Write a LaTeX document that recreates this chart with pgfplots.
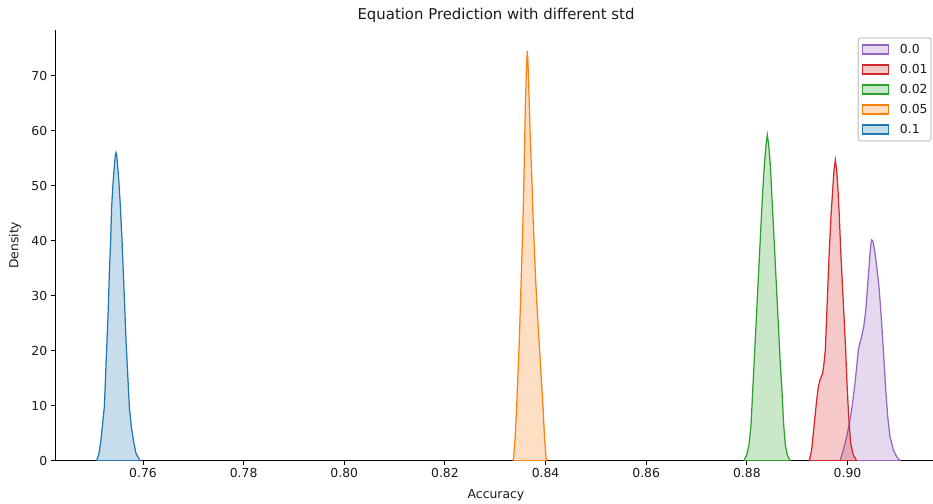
\documentclass[border=0pt]{standalone}
\usepackage{fontspec}
\setmainfont{DejaVu Sans}
\usepackage{pgfplots}
\pgfplotsset{compat=1.18}
\definecolor{c0}{HTML}{9467BD}
\definecolor{c1}{HTML}{D62728}
\definecolor{c2}{HTML}{2CA02C}
\definecolor{c3}{HTML}{FF7F0E}
\definecolor{c4}{HTML}{1F77B4}
\definecolor{legframe}{HTML}{CCCCCC}
\definecolor{txt}{HTML}{1A1A1A}
\newcommand{\tfont}{\fontsize{12.4bp}{14.9bp}\selectfont}
\begin{document}
\begin{tikzpicture}
\begin{axis}[
  scale only axis, width=882bp, height=430.7bp,
  xmin=0.74251, xmax=0.91779, ymin=0, ymax=78.37,
  axis x line*=bottom, axis y line*=left,
  axis line style={line width=1bp, black},
  tick align=outside, major tick length=4.3bp,
  tick style={line width=1bp, black},
  xtick={0.76,0.78,0.80,0.82,0.84,0.86,0.88,0.90},
  ytick={0,10,20,30,40,50,60,70},
  minor tick num=0,
  scaled x ticks=false,
  xticklabel style={/pgf/number format/.cd, fixed, fixed zerofill, precision=2},
  /pgf/number format/assume math mode=true,
  tick label style={font=\tfont, text=txt},
  xlabel={Accuracy}, ylabel={Density},
  label style={font=\tfont, text=txt},
  xlabel style={at={([yshift=-38.2bp]axis description cs:0.5,0)}, anchor=base},
  ylabel style={at={([xshift=-40bp]axis description cs:0,0.5)}, anchor=center},
  title={Equation Prediction with different std},
  every axis title/.style={at={([yshift=10.5bp]axis description cs:0.5,1)}, anchor=base, text=txt, font=\fontsize{14.9bp}{17bp}\selectfont},
  legend cell align=left,
  legend style={at={([xshift=-5.3bp,yshift=-7.3bp]axis description cs:1,1)}, anchor=north east,
    draw=legframe, line width=1.24bp, rounded corners=2.5bp, fill=white, fill opacity=0.8, draw opacity=1, text opacity=1,
    font=\tfont, text=txt, inner xsep=1.5bp, inner ysep=1.5bp, row sep=0bp,
    /tikz/every odd column/.append style={column sep=9bp},
    nodes={text height=9bp, text depth=0bp, inner ysep=5.5bp, inner xsep=2bp}},
  legend image code/.code={\path (0bp,0bp); \draw[#1, sharp corners, line width=1.24bp] (2.5bp,-4.5bp) rectangle (28bp,4.5bp);},
]
\addplot[draw=c0, fill=c0, fill opacity=0.25, draw opacity=1, line width=1.24bp] coordinates {
(0.89851,0) (0.89918,1.95) (0.89984,4.37) (0.90037,6.8) (0.90083,9.22) (0.90116,11.65) (0.90149,14.07) (0.90183,17.11) (0.90216,20.14) (0.90249,21.48) (0.90289,22.88) (0.90328,24.7) (0.90361,27.12) (0.90394,31.06) (0.90428,35.31) (0.90454,38.34) (0.90467,39.43) (0.90481,40.16) (0.90501,40.04) (0.90514,39.55) (0.90547,37.74) (0.9058,35.31) (0.9062,32.27) (0.90646,29.24) (0.90679,25.0) (0.90713,20.14) (0.90752,14.07) (0.90799,8.01) (0.90845,4.37) (0.90911,1.95) (0.90977,0.73) (0.91044,0)
} \closedcycle;
\addlegendentry{0.0}
\addplot[draw=c1, fill=c1, fill opacity=0.25, draw opacity=1, line width=1.24bp] coordinates {
(0.89242,0) (0.89288,1.95) (0.89321,4.98) (0.89354,8.01) (0.89388,11.04) (0.89421,13.47) (0.89454,14.68) (0.89507,15.9) (0.89533,17.72) (0.8956,20.14) (0.89586,26.21) (0.89612,32.27) (0.89639,38.34) (0.89672,44.4) (0.89706,49.25) (0.89732,52.89) (0.89759,54.71) (0.89785,52.89) (0.89812,49.25) (0.89838,44.4) (0.89865,38.34) (0.89898,32.27) (0.89931,26.21) (0.89964,20.14) (0.8999,14.07) (0.90024,8.01) (0.90063,3.16) (0.90116,1.04) (0.90183,0)
} \closedcycle;
\addlegendentry{0.01}
\addplot[draw=c2, fill=c2, fill opacity=0.25, draw opacity=1, line width=1.24bp] coordinates {
(0.87944,0) (0.87997,1.04) (0.88043,2.86) (0.88083,6.5) (0.88116,12.56) (0.88149,18.63) (0.88182,24.69) (0.88215,30.76) (0.88248,36.82) (0.88281,42.89) (0.88315,48.95) (0.88348,53.8) (0.88381,57.44) (0.88407,59.26) (0.88434,57.44) (0.88467,53.8) (0.88493,48.95) (0.88527,42.89) (0.8856,36.82) (0.88593,30.76) (0.88626,24.69) (0.88659,18.63) (0.88699,12.56) (0.88732,6.5) (0.88765,2.86) (0.88805,1.04) (0.88858,0)
} \closedcycle;
\addlegendentry{0.02}
\addplot[draw=c3, fill=c3, fill opacity=0.25, draw opacity=1, line width=1.24bp] coordinates {
(0.8336,0) (0.83393,3.77) (0.83426,9.83) (0.83452,15.9) (0.83479,21.96) (0.83499,28.03) (0.83519,34.09) (0.83539,40.16) (0.83558,46.22) (0.83572,52.29) (0.83585,58.35) (0.83598,64.42) (0.83611,68.66) (0.83625,72.3) (0.83638,74.6) (0.83651,72.3) (0.83664,68.66) (0.83678,64.42) (0.83697,58.35) (0.83724,52.29) (0.83744,46.22) (0.8377,40.16) (0.83797,34.09) (0.8383,28.03) (0.8387,21.96) (0.83909,15.9) (0.83949,9.83) (0.83982,3.77) (0.84015,0)
} \closedcycle;
\addlegendentry{0.05}
\addplot[draw=c4, fill=c4, fill opacity=0.25, draw opacity=1, line width=1.24bp] coordinates {
(0.75079,0) (0.75126,1.34) (0.75165,3.77) (0.75198,6.8) (0.75232,9.83) (0.75258,15.9) (0.75285,21.96) (0.75311,28.03) (0.75331,34.09) (0.75357,40.16) (0.75377,46.22) (0.75404,50.47) (0.7543,53.5) (0.75447,55.4) (0.75463,56.05) (0.7548,55.4) (0.75497,53.5) (0.75523,50.47) (0.7555,46.22) (0.75583,40.16) (0.75609,34.09) (0.75636,28.03) (0.75662,21.96) (0.75695,15.9) (0.75728,9.83) (0.75768,6.19) (0.75808,3.77) (0.75861,1.34) (0.7594,0)
} \closedcycle;
\addlegendentry{0.1}
\coordinate (bl) at (rel axis cs:0,0);
\coordinate (tr) at (rel axis cs:1,1);
\end{axis}
\pgfresetboundingbox
\path ([shift={(-55bp,-43.3bp)}]bl) rectangle ([shift={(-4bp,30bp)}]tr);
\end{tikzpicture}
\end{document}
